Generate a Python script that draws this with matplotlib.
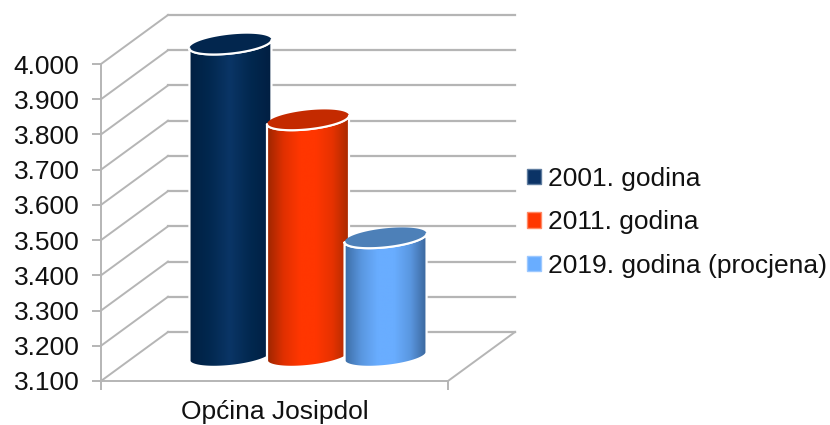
import numpy as np
import matplotlib
matplotlib.use("Agg")
import matplotlib.pyplot as plt
from matplotlib.colors import LinearSegmentedColormap
from matplotlib.patches import Patch, Polygon

plt.rcParams["font.family"] = ["Liberation Sans", "DejaVu Sans"]

# ---
# Data

category = "Općina Josipdol"
series_names = ["2001. godina", "2011. godina", "2019. godina (procjena)"]
series_values = [3987, 3772, 3437]
y_ticks = [3100, 3200, 3300, 3400, 3500, 3600, 3700, 3800, 3900, 4000]
y_tick_labels = ["3.100", "3.200", "3.300", "3.400", "3.500",
                 "3.600", "3.700", "3.800", "3.900", "4.000"]

# edge, shade, centre colours of each cylinder, then top face and legend edge
body_colors = [
    ["#011f42", "#02284f", "#0a3566", "#02284f", "#011f42"],
    ["#9c2600", "#e03000", "#ff3600", "#ff3600", "#e63200", "#a82a00"],
    ["#3d6ea6", "#5a97e0", "#69adff", "#69adff", "#5a97e0", "#3a659a"],
]
top_colors = ["#02264e", "#c42a00", "#4d80b8"]
legend_colors = ["#0b3366", "#ff3600", "#69adff"]
legend_edges = ["#5f7c9f", "#ff8a66", "#9cc8ff"]

GRID = "#b5b5b5"
FONT = 19

# ---
# Layout: 3D look on a normal axes, depth is a shift in x and in value

W, H = 830, 425
AX_L, AX_R, AX_T, AX_B = 101, 448, 64, 381

fig = plt.figure(figsize=(W / 100, H / 100), dpi=100)
ax = fig.add_axes([AX_L / W, 1 - AX_B / H, (AX_R - AX_L) / W, (AX_B - AX_T) / H])

px_x = 1 / (AX_R - AX_L)                 # x units per pixel
px_y = (y_ticks[-1] - y_ticks[0]) / (AX_B - AX_T)   # value units per pixel
depth_x = 67 * px_x
depth_y = 49 * px_y

# ---
# Walls and floor

for v in y_ticks:
    ax.plot([0, depth_x], [v, v + depth_y], color=GRID, lw=1.4, clip_on=False, zorder=1)
    ax.plot([depth_x, 1 + depth_x], [v + depth_y, v + depth_y],
            color=GRID, lw=1.6, clip_on=False, zorder=1)
ax.plot([1, 1 + depth_x], [y_ticks[0], y_ticks[0] + depth_y],
        color=GRID, lw=1.4, clip_on=False, zorder=1)

# ---
# Cylinders

spacing = 0.2235
half_w = 41 * px_x
tilt = 4.2 * px_y
half_h = 9.5 * px_y
t_front = np.linspace(0, np.pi, 80)     # left end to right end along the front
t_full = np.linspace(0, 2 * np.pi, 160)


def ellipse(cx, cy, t):
    # left end sits lower than the right end
    x = cx - half_w * np.cos(t)
    y = cy - tilt * np.cos(t) - half_h * np.sin(t)
    return x, y


for i, value in enumerate(series_values):
    cx = 0.5 + (i - 1) * spacing + depth_x / 2
    base = y_ticks[0] + depth_y / 2
    top = value + depth_y / 2
    z = 3 + i * 5

    bx, by = ellipse(cx, base, t_front)
    tx, ty = ellipse(cx, top, t_front)
    outline = np.vstack([
        np.column_stack([bx, by]),
        np.column_stack([tx[::-1], ty[::-1]]),
    ])
    ax.add_patch(Polygon(outline, closed=True, facecolor="none", edgecolor="white",
                         lw=1.6, clip_on=False, zorder=z + 2))

    cmap = LinearSegmentedColormap.from_list("body", body_colors[i])
    im = ax.imshow(np.linspace(0, 1, 256)[None, :], cmap=cmap, aspect="auto",
                   extent=[cx - half_w, cx + half_w, base - 30 * px_y, top + 30 * px_y],
                   interpolation="bilinear", zorder=z + 1)
    im.set_clip_path(Polygon(outline, closed=True, transform=ax.transData))
    im.set_clip_box(fig.bbox)

    # top face and its white front rim
    ex, ey = ellipse(cx, top, t_full)
    ax.add_patch(Polygon(np.column_stack([ex, ey]), closed=True, facecolor=top_colors[i],
                         edgecolor="none", clip_on=False, zorder=z + 3))
    ax.plot(tx, ty, color="white", lw=1.5, clip_on=False,
            solid_capstyle="round", zorder=z + 4)

# ---
# Axes

ax.set_xlim(0, 1)
ax.set_ylim(y_ticks[0], y_ticks[-1])
ax.patch.set_visible(False)
for side in ["top", "right"]:
    ax.spines[side].set_visible(False)
for side in ["left", "bottom"]:
    ax.spines[side].set_color(GRID)
    ax.spines[side].set_linewidth(1.4)

ax.set_yticks(y_ticks)
ax.set_yticklabels(y_tick_labels, fontsize=FONT, color="#111111")
ax.tick_params(axis="y", length=6.5, width=1.4, color=GRID, pad=9)

ax.set_xticks([0.5])
ax.set_xticklabels([category], fontsize=FONT, color="#111111")
ax.set_xticks([0, 1], minor=True)
ax.tick_params(axis="x", which="major", length=0, pad=13.5)
ax.tick_params(axis="x", which="minor", length=6.5, width=1.4, color=GRID)

handles = [Patch(facecolor=c, edgecolor=e, lw=1, label=n)
           for c, e, n in zip(legend_colors, legend_edges, series_names)]
fig.legend(handles=handles, loc="center left", bbox_to_anchor=(520 / W, 1 - 222.5 / H),
           frameon=False, fontsize=FONT, handlelength=0.52, handleheight=0.52,
           handletextpad=0.25, labelspacing=0.74, borderpad=0, borderaxespad=0.28,
           labelcolor="#111111")

fig.savefig("out.png", dpi=100)
